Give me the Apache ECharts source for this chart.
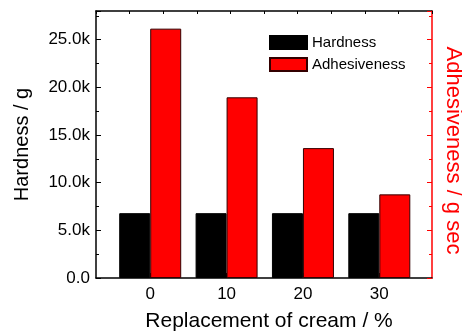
<!DOCTYPE html>
<html>
<head>
<meta charset="utf-8">
<script src="https://cdn.jsdelivr.net/npm/echarts@6/dist/echarts.min.js"></script>
<style>
  html, body { margin: 0; padding: 0; background: #fff; }
  #chart { width: 462px; height: 334px; }
</style>
</head>
<body>
<div id="chart"></div>
<script>
// Cream replacement levels (%) and the measured texture values
const replacement = [0, 10, 20, 30];
const hardness = [6800, 6800, 6800, 6800];        // g
const adhesiveness = [26150, 18950, 13620, 8770]; // g sec
const yTicks = [0, 5000, 10000, 15000, 20000, 25000];

const FONT = '"Liberation Sans", Arial, sans-serif';
const RED = '#ff0000';

const chart = echarts.init(document.getElementById('chart'), null, { renderer: 'canvas' });

function kLabel(v) {
  return v === 0 ? '0.0' : (v / 1000).toFixed(1) + 'k';
}

chart.setOption({
  animation: false,
  backgroundColor: '#fff',
  textStyle: { fontFamily: FONT },
  grid: { left: 96, right: 30, top: 11, bottom: 56, containLabel: false, outerBoundsMode: 'none' },
  legend: {
    orient: 'vertical',
    left: 269,
    top: 35,
    icon: 'rect',
    itemWidth: 37,
    itemHeight: 13,
    itemGap: 7,
    padding: 0,
    textStyle: { fontSize: 15, color: '#000', fontFamily: FONT },
    data: ['Hardness', 'Adhesiveness']
  },
  xAxis: [
    {
      type: 'value',
      position: 'bottom',
      min: -7.1,
      max: 36.9,
      name: 'Replacement of cream / %',
      nameLocation: 'middle',
      nameGap: 33,
      nameTextStyle: { fontSize: 21, color: '#000', fontFamily: FONT, padding: [0, 0, 0, 10] },
      axisLine: { show: true, onZero: false, lineStyle: { color: '#000', width: 1.5 } },
      axisTick: { show: true, inside: true, length: 5, customValues: replacement, lineStyle: { color: '#000' } },
      axisLabel: { show: true, customValues: replacement, margin: 8, fontSize: 17, color: '#000', fontFamily: FONT },
      splitLine: { show: false }
    },
    {
      type: 'value',
      position: 'top',
      min: 0,
      max: 10,
      interval: 1,
      axisLine: { show: true, onZero: false, lineStyle: { color: '#000', width: 1.5 } },
      axisTick: { show: true, inside: true, length: 3, lineStyle: { color: '#000' } },
      axisLabel: { show: false },
      splitLine: { show: false }
    }
  ],
  yAxis: [
    {
      type: 'value',
      position: 'left',
      min: 0,
      max: 28000,
      interval: 5000,
      name: 'Hardness / g',
      nameLocation: 'middle',
      nameGap: 64,
      nameTextStyle: { fontSize: 20, color: '#000', fontFamily: FONT },
      axisLine: { show: true, onZero: false, lineStyle: { color: '#000', width: 1.5 } },
      axisTick: { show: true, inside: true, length: 5, lineStyle: { color: '#000' } },
      minorTick: { show: true, splitNumber: 2, length: 3, lineStyle: { color: '#000' } },
      axisLabel: { formatter: kLabel, customValues: yTicks, margin: 6, fontSize: 17, color: '#000', fontFamily: FONT },
      splitLine: { show: false }
    },
    {
      type: 'value',
      position: 'right',
      min: 0,
      max: 28000,
      interval: 5000,
      name: 'Adhesiveness / g sec',
      nameLocation: 'middle',
      nameGap: 10,
      nameRotate: -90,
      nameTextStyle: { fontSize: 22, color: RED, fontFamily: FONT, padding: [0, 0, 0, 12] },
      axisLine: { show: true, onZero: false, lineStyle: { color: RED, width: 1.5 } },
      axisTick: { show: true, inside: true, length: 5, lineStyle: { color: RED } },
      minorTick: { show: true, splitNumber: 2, length: 3, lineStyle: { color: RED } },
      axisLabel: { show: false },
      splitLine: { show: false }
    }
  ],
  series: [
    {
      name: 'Hardness',
      type: 'bar',
      xAxisIndex: 0,
      yAxisIndex: 0,
      barWidth: 31,
      barGap: '0%',
      itemStyle: { color: '#000', borderColor: '#000', borderWidth: 1 },
      data: replacement.map((x, i) => [x, hardness[i]])
    },
    {
      name: 'Adhesiveness',
      type: 'bar',
      xAxisIndex: 0,
      yAxisIndex: 0,
      barWidth: 31,
      barGap: '0%',
      itemStyle: { color: RED, borderColor: '#300', borderWidth: 1 },
      data: replacement.map((x, i) => [x, adhesiveness[i]])
    }
  ]
});
</script>
</body>
</html>
